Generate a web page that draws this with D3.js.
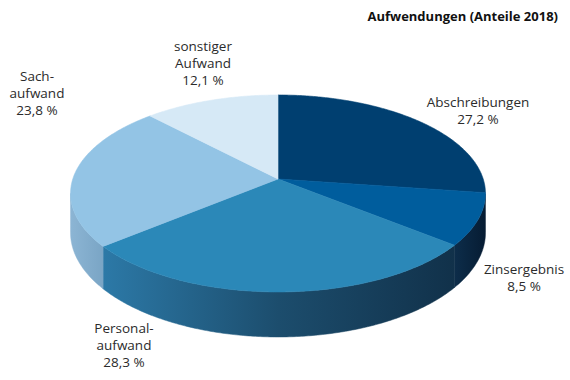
<!DOCTYPE html>
<html>
<head>
<meta charset="utf-8">
<script src="https://cdn.jsdelivr.net/npm/d3@7"></script>
<style>
  html, body { margin: 0; padding: 0; background: #fff; }
  svg { display: block; }
  text { font-family: "Open Sans", "Noto Sans", sans-serif; fill: #2b2b2b; }
</style>
</head>
<body>
<svg id="chart" width="570" height="380"></svg>
<script>
// ---- data ----
const title = "Aufwendungen (Anteile 2018)";
const categories = ["Abschreibungen", "Zinsergebnis", "Personalaufwand", "Sachaufwand", "sonstiger Aufwand"];
const values = [27.2, 8.5, 28.3, 23.8, 12.1];
const valueLabels = ["27,2 %", "8,5 %", "28,3 %", "23,8 %", "12,1 %"];
const nameLines = [["Abschreibungen"], ["Zinsergebnis"], ["Personal-", "aufwand"], ["Sach-", "aufwand"], ["sonstiger", "Aufwand"]];

// ---- styles / layout ----
const topColors = ["#003f70", "#005d9d", "#2b88b8", "#93c4e5", "#d6e9f6"];
const sideStops = [
  ["#003060", "#002650"],
  ["#0d2d4a", "#061c33"],
  ["#2c79a7", "#1c4d6d", "#11314a"],
  ["#8cb5d4", "#7aa5c5"],
  ["#b9d3e6", "#b0cbe0"]
];
const labelAnchors = [[478, 107], [524, 274], [124, 333], [37, 81], [203, 51]];
const lineH = 17.2;

const svg = d3.select("#chart");
const W = 570, H = 380;

// perspective projection of a disc (angle measured clockwise from 12 o'clock)
const cx = 278, cy = 179, k = 205.2, ks = 96.35, p = 0.147, depth = 38.4;
function proj(theta, d) {
  const z = Math.cos(theta), x = Math.sin(theta);
  const w = 1 + p * z;
  return [cx + k * x / w, cy + (-ks * z + d) / w];
}

const pie = d3.pie().sort(null).value(d => d)
  .startAngle(0).endAngle(2 * Math.PI);
const arcs = pie(values);

const line = d3.line();
function arcPoints(a0, a1, d) {
  const n = Math.max(2, Math.ceil((a1 - a0) / 0.01));
  return d3.range(n + 1).map(i => proj(a0 + (a1 - a0) * i / n, d));
}

const defs = svg.append("defs");
const silA = Math.acos(-p), silB = 2 * Math.PI - silA;

// sides
const sides = svg.append("g");
arcs.forEach((a, i) => {
  const lo = Math.max(a.startAngle, silA), hi = Math.min(a.endAngle, silB);
  if (hi <= lo) return;
  const top = arcPoints(lo, hi, 0);
  const bot = arcPoints(lo, hi, depth).reverse();
  const xs = top.map(q => q[0]);
  const gid = "side" + i;
  const g = defs.append("linearGradient").attr("id", gid)
    .attr("gradientUnits", "userSpaceOnUse")
    .attr("x1", d3.min(xs)).attr("x2", d3.max(xs)).attr("y1", 0).attr("y2", 0);
  const st = sideStops[i];
  st.forEach((c, j) => g.append("stop").attr("offset", j / (st.length - 1)).attr("stop-color", c));
  sides.append("path")
    .attr("d", line(top.concat(bot)) + "Z")
    .attr("fill", `url(#${gid})`)
    .attr("stroke", `url(#${gid})`).attr("stroke-width", 0.5);
});

// top faces
const tops = svg.append("g");
arcs.forEach((a, i) => {
  const pts = [[cx, cy]].concat(arcPoints(a.startAngle, a.endAngle, 0));
  tops.append("path")
    .attr("d", line(pts) + "Z")
    .attr("fill", topColors[i])
    .attr("stroke", topColors[i]).attr("stroke-width", 0.6).attr("stroke-linejoin", "round");
});

// labels
const labels = svg.append("g");
categories.forEach((c, i) => {
  const linesTxt = nameLines[i].concat([valueLabels[i]]);
  const t = labels.append("text")
    .attr("text-anchor", "middle")
    .attr("font-size", 13.5);
  linesTxt.forEach((s, j) => {
    t.append("tspan").attr("x", labelAnchors[i][0]).attr("y", labelAnchors[i][1] + j * lineH).text(s);
  });
});

// title
svg.append("text")
  .attr("x", 558).attr("y", 21)
  .attr("text-anchor", "end")
  .attr("font-size", 13)
  .attr("font-weight", "bold")
  .style("fill", "#111")
  .text(title);
</script>
</body>
</html>
